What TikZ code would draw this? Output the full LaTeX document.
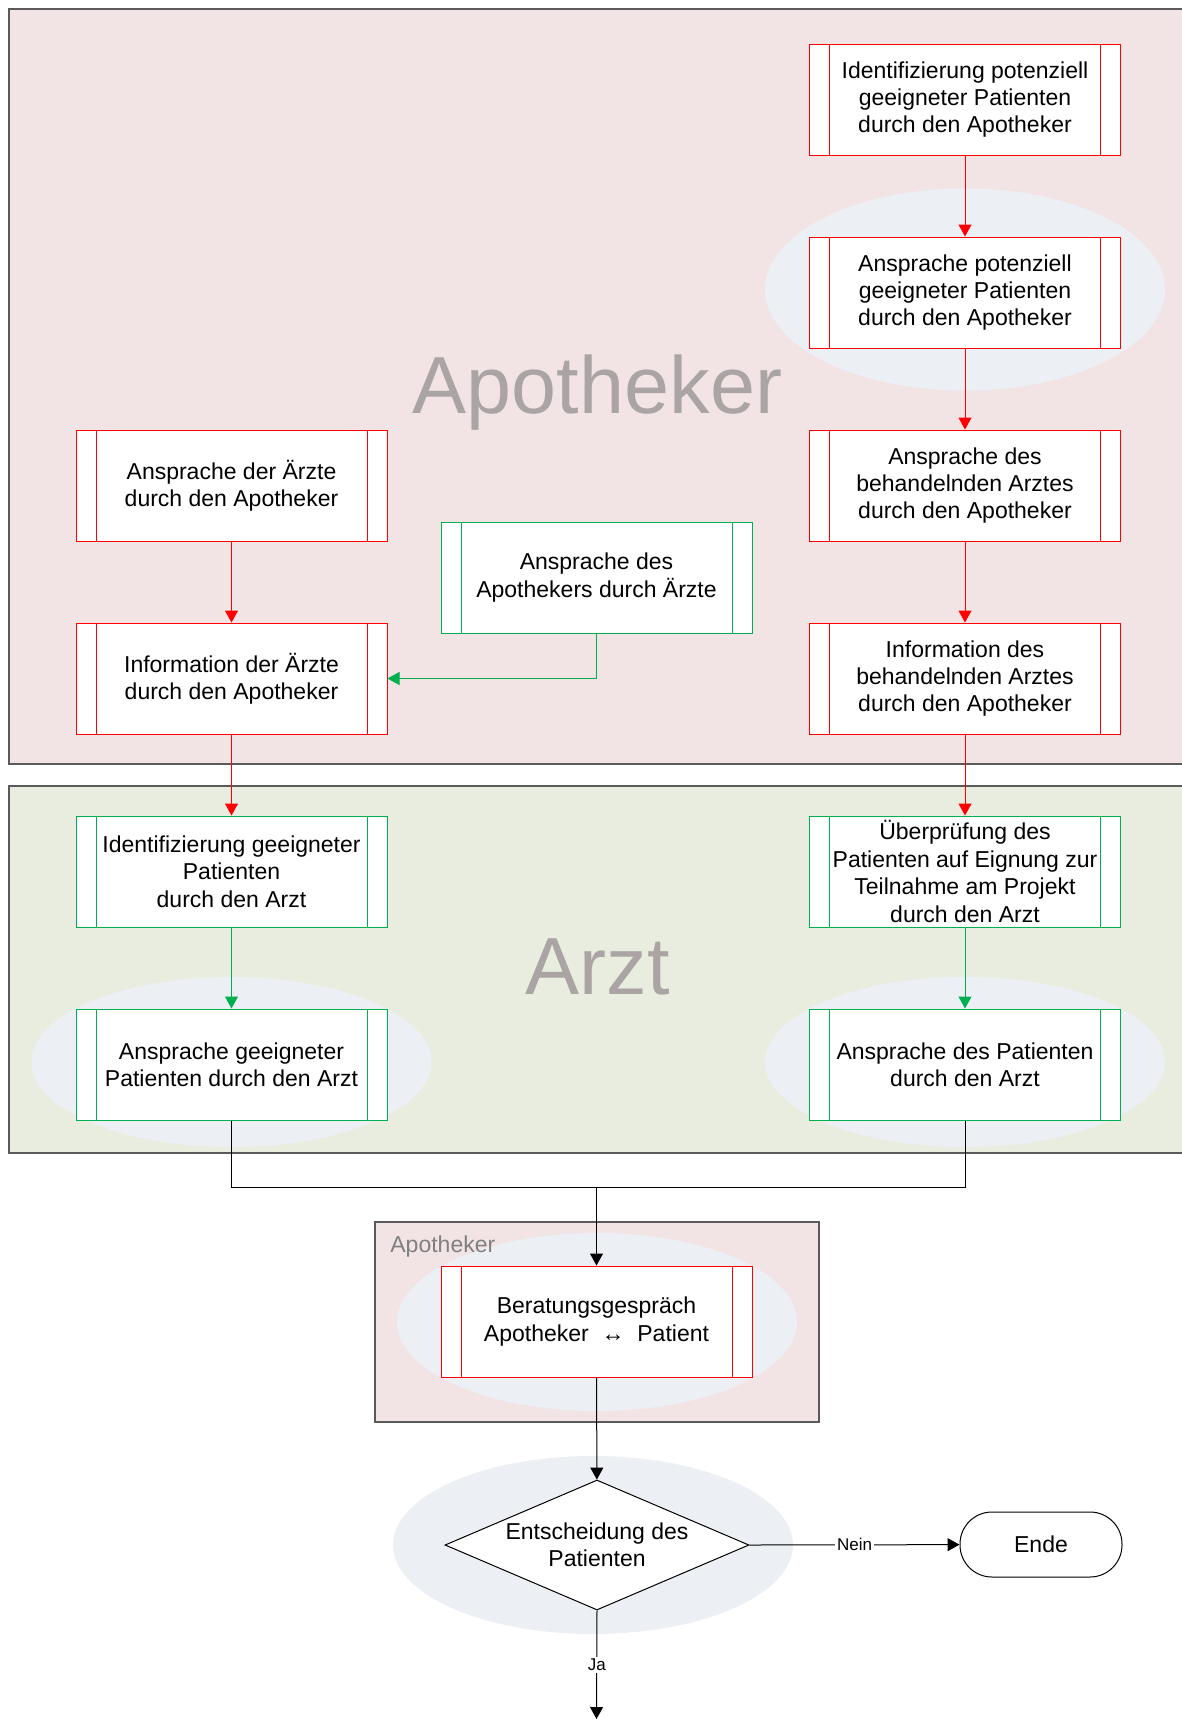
\documentclass[tikz,border=0pt]{standalone}
\usepackage{fontspec}
\setmainfont{Liberation Sans}
\usetikzlibrary{shapes.geometric,arrows.meta}

\definecolor{apoLane}{RGB}{242,228,228}
\definecolor{arztLane}{RGB}{233,237,223}
\definecolor{halo}{RGB}{236,239,244}
\definecolor{apoRed}{RGB}{255,0,0}
\definecolor{arztGreen}{RGB}{0,176,80}
\definecolor{laneText}{RGB}{170,164,164}
\definecolor{laneLine}{RGB}{90,90,90}

\newcommand{\boxfont}{\fontsize{11.5pt}{13.7pt}\selectfont}

\tikzset{
  proc/.style={draw=#1, fill=white, line width=0.5pt, minimum width=155.5pt,
    minimum height=55.5pt, inner sep=0pt, align=center, font=\boxfont,
    path picture={
      \draw[#1, line width=0.5pt]
        ([xshift=10pt]path picture bounding box.north west) -- ([xshift=10pt]path picture bounding box.south west)
        ([xshift=-10pt]path picture bounding box.north east) -- ([xshift=-10pt]path picture bounding box.south east);}},
  flow/.style={draw=#1, line width=0.5pt, -{Triangle[length=6pt,width=6.5pt]}},
  lane/.style={fill=#1, draw=laneLine, line width=0.7pt},
  lanetitle/.style={text=laneText, font=\fontsize{40.5pt}{40.5pt}\selectfont, anchor=base},
  flowlabel/.style={fill=white, inner sep=1pt, font=\fontsize{8.5pt}{10pt}\selectfont}
}

\begin{document}
\begin{tikzpicture}[x=0.5pt, y=-0.5pt]
  \useasboundingbox (0,0) rectangle (1182,1719);
  \clip (0,0) rectangle (1182,1719);

  % swimlanes
  \draw[lane=apoLane] (9,9) rectangle (1200,764);
  \draw[lane=arztLane] (9,786) rectangle (1200,1153);
  \draw[lane=apoLane] (375,1222) rectangle (819,1422);

  \fill[halo] (965,289.5) ellipse [x radius=100pt, y radius=50.5pt];
  \fill[halo] (231.5,1062) ellipse [x radius=100pt, y radius=42.5pt];
  \fill[halo] (965,1062) ellipse [x radius=100pt, y radius=42.5pt];
  \fill[halo] (597,1322) ellipse [x radius=100pt, y radius=44.5pt];
  \fill[halo] (593,1545) ellipse [x radius=100pt, y radius=44.5pt];

  \node[lanetitle] (titleApo) at (597.5,413) {Apotheker};
  \node[lanetitle] (titleArzt) at (597.5,994.5) {Arzt};
  \node[text=gray, font=\boxfont, anchor=base west, inner sep=0pt] (titleBer) at (390,1252) {Apotheker};

  % Apotheker
  \node[proc=apoRed] (r1) at (965,99.5) {Identifizierung potenziell\\geeigneter Patienten\\durch den Apotheker};
  \node[proc=apoRed] (r2) at (965,292.5) {Ansprache potenziell\\geeigneter Patienten\\durch den Apotheker};
  \node[proc=apoRed] (r3) at (965,485.5) {Ansprache des\\behandelnden Arztes\\durch den Apotheker};
  \node[proc=apoRed] (r4) at (965,678.5) {Information des\\behandelnden Arztes\\durch den Apotheker};
  \node[proc=apoRed] (l1) at (231.5,485.5) {Ansprache der Ärzte\\durch den Apotheker};
  \node[proc=apoRed] (l2) at (231.5,678.5) {Information der Ärzte\\durch den Apotheker};
  \node[proc=arztGreen] (c1) at (596.5,577.5) {Ansprache des\\Apothekers durch Ärzte};

  % Arzt
  \node[proc=arztGreen] (aL1) at (231.5,871.5) {Identifizierung geeigneter\\Patienten\\durch den Arzt};
  \node[proc=arztGreen] (aL2) at (231.5,1064.5) {Ansprache geeigneter\\Patienten durch den Arzt};
  \node[proc=arztGreen] (aR1) at (965,871.5) {Überprüfung des\\Patienten auf Eignung zur\\Teilnahme am Projekt\\durch den Arzt};
  \node[proc=arztGreen] (aR2) at (965,1064.5) {Ansprache des Patienten\\durch den Arzt};

  \node[proc=apoRed] (berat) at (596.5,1321.5) {Beratungsgespräch\\Apotheker~~↔~~Patient};
  \node[shape=diamond, draw, fill=white, line width=0.5pt, aspect=2.34, minimum width=152pt,
    minimum height=65pt, inner sep=0pt, align=center, font=\boxfont] (dec) at (597,1545) {Entscheidung des\\Patienten};
  \node[draw, fill=white, line width=0.5pt, rounded corners=16pt, minimum width=81pt,
    minimum height=32.5pt, font=\boxfont] (ende) at (1041,1544.5) {Ende};

  \coordinate (merge) at (596.5,1187);
  \coordinate (out) at (596.5,1719);

  \draw[flow=apoRed] (r1) -- (r2);
  \draw[flow=apoRed] (r2) -- (r3);
  \draw[flow=apoRed] (r3) -- (r4);
  \draw[flow=apoRed] (r4) -- (aR1);
  \draw[flow=apoRed] (l1) -- (l2);
  \draw[flow=apoRed] (l2) -- (aL1);
  \draw[flow=arztGreen] (c1.south) |- (l2.east);
  \draw[flow=arztGreen] (aL1) -- (aL2);
  \draw[flow=arztGreen] (aR1) -- (aR2);

  \draw[line width=0.5pt] (aL2.south) |- (merge) -| (aR2.south);
  \draw[flow=black] (merge) -- (berat);
  \draw[flow=black] (berat) -- (dec);
  \draw[flow=black] (dec.east) -- node[flowlabel] {Nein} (ende);
  \draw[flow=black] (dec.south) -- node[flowlabel] {Ja} (out);
\end{tikzpicture}
\end{document}
